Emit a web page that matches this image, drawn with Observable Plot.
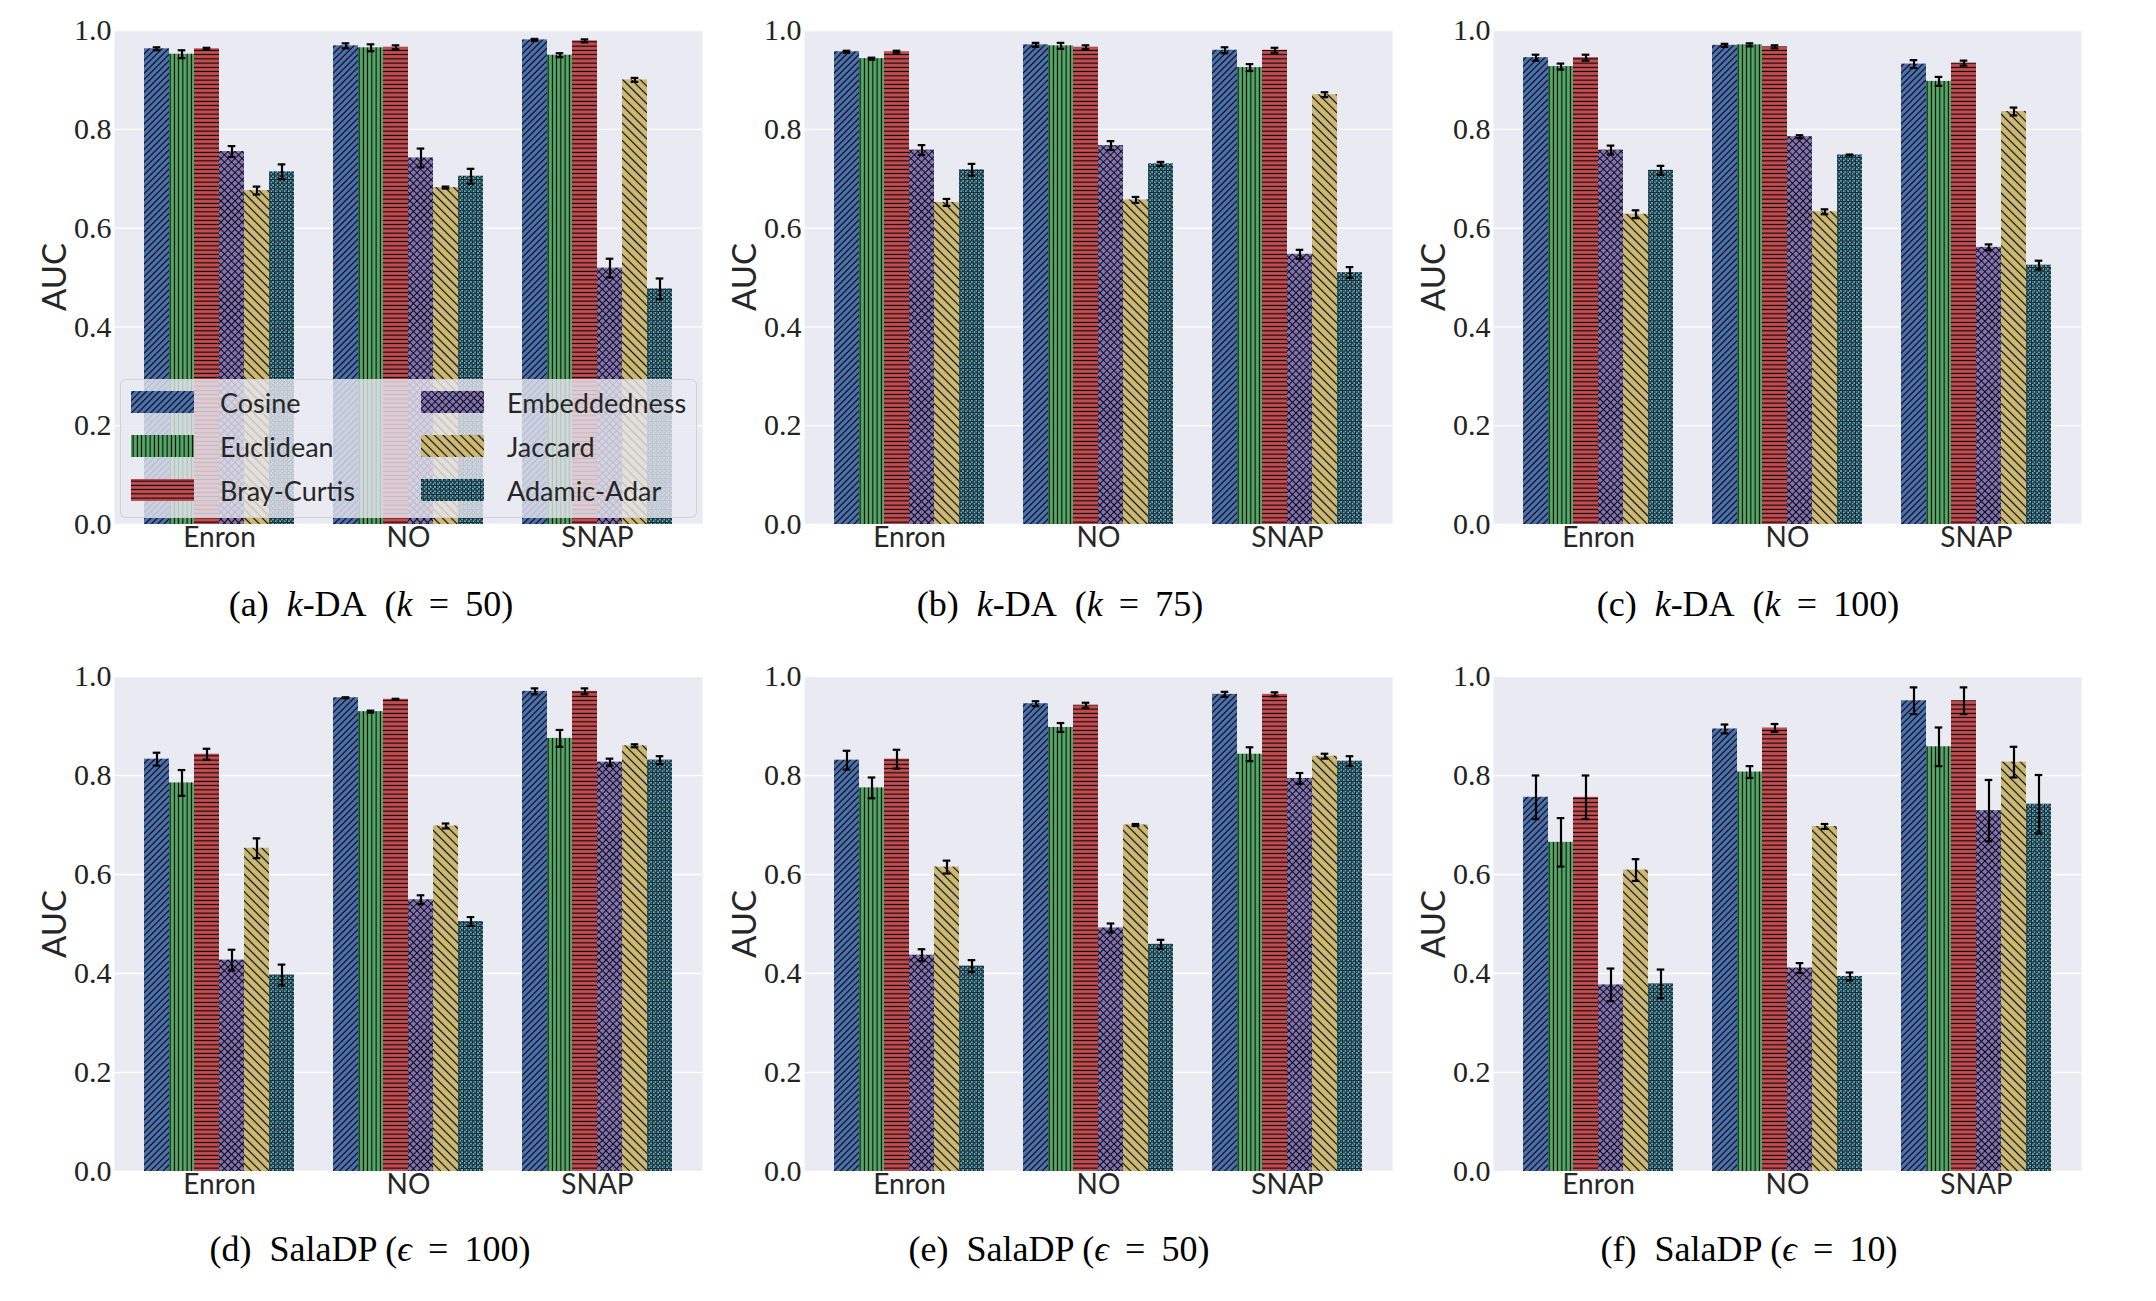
<!DOCTYPE html>
<html><head><meta charset="utf-8">
<script src="https://cdn.jsdelivr.net/npm/d3@7"></script>
<script src="https://cdn.jsdelivr.net/npm/@observablehq/plot@0.6"></script>
<style>
html,body{margin:0;padding:0;background:#fff;}
#root{position:relative;width:2156px;height:1301px;overflow:hidden;background:#fff;}
.cap{position:absolute;transform:translate(-50%,-50%);font-family:"Liberation Serif",serif;font-size:36px;color:#000;white-space:nowrap;}
.ylab{position:absolute;transform:translate(-50%,-50%) rotate(-90deg);font-family:Lato,sans-serif;font-size:33px;color:#262626;white-space:nowrap;}
.legend{position:absolute;background:rgba(234,234,242,0.8);border:1px solid rgba(204,204,204,0.8);border-radius:6px;box-sizing:border-box;}
.litem{position:absolute;display:flex;align-items:center;font-family:Lato,sans-serif;font-size:27px;color:#262626;white-space:nowrap;}
</style></head>
<body><div id="root"></div>
<script>
const groups = ["Enron", "NO", "SNAP"];
const methods = ["Cosine", "Euclidean", "Bray-Curtis", "Embeddedness", "Jaccard", "Adamic-Adar"];
const colors = ["#4C72B0", "#55A868", "#C44E52", "#8172B2", "#CCB974", "#64B5CD"];
const yTicks = [0, 0.2, 0.4, 0.6, 0.8, 1.0];

// (a) k-DA (k = 50): rows = Enron, NO, SNAP; columns = methods
const kda50Mean = [
  [0.963, 0.952, 0.963, 0.755, 0.676, 0.714],
  [0.969, 0.965, 0.966, 0.742, 0.682, 0.705],
  [0.981, 0.950, 0.979, 0.519, 0.900, 0.477]];
const kda50Err = [
  [0.003, 0.008, 0.002, 0.011, 0.008, 0.015],
  [0.005, 0.007, 0.004, 0.019, 0.002, 0.015],
  [0.002, 0.004, 0.003, 0.019, 0.004, 0.021]];
// (b) k-DA (k = 75)
const kda75Mean = [
  [0.957, 0.943, 0.957, 0.758, 0.652, 0.718],
  [0.971, 0.969, 0.966, 0.767, 0.657, 0.730],
  [0.960, 0.925, 0.960, 0.547, 0.870, 0.510]];
const kda75Err = [
  [0.002, 0.002, 0.002, 0.010, 0.007, 0.012],
  [0.004, 0.006, 0.004, 0.009, 0.006, 0.004],
  [0.006, 0.007, 0.005, 0.009, 0.005, 0.011]];
// (c) k-DA (k = 100)
const kda100Mean = [
  [0.945, 0.927, 0.945, 0.758, 0.628, 0.717],
  [0.970, 0.971, 0.967, 0.785, 0.633, 0.748],
  [0.932, 0.897, 0.934, 0.561, 0.836, 0.525]];
const kda100Err = [
  [0.006, 0.006, 0.006, 0.009, 0.008, 0.009],
  [0.003, 0.003, 0.003, 0.003, 0.005, 0.001],
  [0.008, 0.009, 0.005, 0.006, 0.008, 0.009]];
// (d) SalaDP (eps = 100)
const sala100Mean = [
  [0.833, 0.785, 0.843, 0.427, 0.653, 0.397],
  [0.957, 0.929, 0.954, 0.549, 0.698, 0.505],
  [0.970, 0.875, 0.970, 0.827, 0.860, 0.831]];
const sala100Err = [
  [0.013, 0.026, 0.011, 0.021, 0.020, 0.021],
  [0.001, 0.002, 0.001, 0.009, 0.005, 0.009],
  [0.006, 0.017, 0.006, 0.007, 0.003, 0.008]];
// (e) SalaDP (eps = 50)
const sala50Mean = [
  [0.831, 0.775, 0.833, 0.437, 0.615, 0.415],
  [0.945, 0.897, 0.942, 0.492, 0.700, 0.459],
  [0.964, 0.843, 0.964, 0.794, 0.839, 0.829]];
const sala50Err = [
  [0.019, 0.021, 0.019, 0.012, 0.013, 0.012],
  [0.005, 0.009, 0.005, 0.009, 0.002, 0.009],
  [0.005, 0.014, 0.004, 0.011, 0.005, 0.010]];
// (f) SalaDP (eps = 10)
const sala10Mean = [
  [0.756, 0.665, 0.756, 0.377, 0.609, 0.379],
  [0.894, 0.807, 0.896, 0.411, 0.697, 0.394],
  [0.951, 0.858, 0.951, 0.729, 0.827, 0.742]];
const sala10Err = [
  [0.044, 0.049, 0.044, 0.033, 0.022, 0.029],
  [0.009, 0.012, 0.008, 0.010, 0.005, 0.008],
  [0.027, 0.039, 0.027, 0.062, 0.031, 0.059]];

const captions = [
  "(a)&nbsp; <i>k</i>-DA&nbsp; (<i>k</i>&thinsp; = &thinsp;50)",
  "(b)&nbsp; <i>k</i>-DA&nbsp; (<i>k</i>&thinsp; = &thinsp;75)",
  "(c)&nbsp; <i>k</i>-DA&nbsp; (<i>k</i>&thinsp; = &thinsp;100)",
  "(d)&nbsp; SalaDP (<i>ϵ</i>&thinsp; = &thinsp;100)",
  "(e)&nbsp; SalaDP (<i>ϵ</i>&thinsp; = &thinsp;50)",
  "(f)&nbsp; SalaDP (<i>ϵ</i>&thinsp; = &thinsp;10)"
];

const root = document.getElementById("root");

// hatch patterns (matplotlib-like)
const patternIds = methods.map((m, i) => "hatch" + i);
const patternUrls = patternIds.map(id => `url(#${id})`);
const defsSvg = document.createElementNS("http://www.w3.org/2000/svg", "svg");
defsSvg.setAttribute("width", "0"); defsSvg.setAttribute("height", "0");
defsSvg.style.position = "absolute"; defsSvg.style.left = "0"; defsSvg.style.top = "0";
defsSvg.innerHTML = `<defs>
<pattern id="hatch0" patternUnits="userSpaceOnUse" width="4.5" height="4.5" patternTransform="rotate(45)">
  <rect width="4.5" height="4.5" fill="${colors[0]}"/><line x1="2.25" y1="-1" x2="2.25" y2="5.5" stroke="#000" stroke-width="1.1"/></pattern>
<pattern id="hatch1" patternUnits="userSpaceOnUse" width="4.25" height="4.25">
  <rect width="4.25" height="4.25" fill="${colors[1]}"/><line x1="2.1" y1="-1" x2="2.1" y2="5.5" stroke="#000" stroke-width="1.1"/></pattern>
<pattern id="hatch2" patternUnits="userSpaceOnUse" width="4.25" height="4.25">
  <rect width="4.25" height="4.25" fill="${colors[2]}"/><line x1="-1" y1="2.1" x2="5.5" y2="2.1" stroke="#000" stroke-width="1.1"/></pattern>
<pattern id="hatch3" patternUnits="userSpaceOnUse" width="5" height="5" patternTransform="rotate(45)">
  <rect width="5" height="5" fill="${colors[3]}"/><line x1="2.5" y1="-1" x2="2.5" y2="6" stroke="#000" stroke-width="0.9"/><line x1="-1" y1="2.5" x2="6" y2="2.5" stroke="#000" stroke-width="0.9"/></pattern>
<pattern id="hatch4" patternUnits="userSpaceOnUse" width="6.2" height="6.2" patternTransform="rotate(-45)">
  <rect width="6.2" height="6.2" fill="${colors[4]}"/><line x1="3.1" y1="-1" x2="3.1" y2="7.2" stroke="#000" stroke-width="1.1"/></pattern>
<pattern id="hatch5" patternUnits="userSpaceOnUse" width="4.4" height="4.4">
  <rect width="4.4" height="4.4" fill="${colors[5]}"/>
  <circle cx="1.1" cy="1.1" r="1.05" fill="none" stroke="#000" stroke-width="0.95"/>
  <circle cx="3.3" cy="3.3" r="1.05" fill="none" stroke="#000" stroke-width="0.95"/></pattern>
</defs>`;
root.appendChild(defsSvg);

const panels = [
  {mean: kda50Mean, err: kda50Err, left: 114, top: 30, h: 494, capX: 371, capY: 604, legend: true},
  {mean: kda75Mean, err: kda75Err, left: 804, top: 30, h: 494, capX: 1060, capY: 604},
  {mean: kda100Mean, err: kda100Err, left: 1493, top: 30, h: 494, capX: 1748, capY: 604},
  {mean: sala100Mean, err: sala100Err, left: 114, top: 676, h: 495, capX: 370, capY: 1249},
  {mean: sala50Mean, err: sala50Err, left: 804, top: 676, h: 495, capX: 1059, capY: 1249},
  {mean: sala10Mean, err: sala10Err, left: 1493, top: 676, h: 495, capX: 1749, capY: 1249}
];

const W = 588, ML = 60, MR = 12, MT = 20, MB = 50;

panels.forEach((p, pi) => {
  const rows = groups.flatMap((g, gi) => methods.map((m, mi) => ({
    group: g, method: m, value: p.mean[gi][mi], err: p.err[gi][mi]
  })));
  const common = {
    width: ML + W + MR, height: MT + p.h + MB,
    marginLeft: ML, marginRight: MR, marginTop: MT, marginBottom: MB
  };
  const bg = Plot.plot({
    ...common,
    style: {background: "transparent", overflow: "visible", fontFamily: "Liberation Serif, serif", fontSize: "30px", color: "#222"},
    y: {domain: [0, 1], ticks: yTicks, tickFormat: d3.format(".1f"), tickSize: 0, tickPadding: 3, label: null},
    marks: [
      Plot.frame({fill: "#EAEAF2", stroke: "none"}),
      Plot.gridY(yTicks, {stroke: "white", strokeOpacity: 1, strokeWidth: 1.3})
    ]
  });
  bg.querySelectorAll("text").forEach(t => {
    t.setAttribute("font-family", "Liberation Serif, serif");
    t.style.fontFamily = "'Liberation Serif', serif";
    t.style.fontSize = "30px";
  });
  const bars = Plot.plot({
    ...common,
    style: {background: "transparent", overflow: "visible", fontFamily: "Lato, sans-serif", fontSize: "28px", color: "#262626"},
    fx: {domain: groups, paddingInner: 0.195, paddingOuter: 0.145, axis: "bottom", tickSize: 0, tickPadding: 3, label: null},
    x: {domain: methods, padding: 0, axis: null},
    y: {domain: [0, 1], axis: null},
    color: {type: "ordinal", domain: methods, range: patternUrls},
    marks: [
      Plot.barY(rows, {fx: "group", x: "method", y: "value", fill: "method"}),
      Plot.ruleX(rows, {fx: "group", x: "method", y1: d => d.value - d.err, y2: d => d.value + d.err, stroke: "black", strokeWidth: 2.2}),
      Plot.tickY(rows, {fx: "group", x: "method", y: d => d.value - d.err, stroke: "black", strokeWidth: 2.2, inset: 8.7}),
      Plot.tickY(rows, {fx: "group", x: "method", y: d => d.value + d.err, stroke: "black", strokeWidth: 2.2, inset: 8.7})
    ]
  });
  for (const s of [bg, bars]) {
    s.style.position = "absolute";
    s.style.left = (p.left - ML) + "px";
    s.style.top = (p.top - MT) + "px";
    s.style.maxWidth = "none";
    root.appendChild(s);
  }
  const yl = document.createElement("div");
  yl.className = "ylab"; yl.textContent = "AUC";
  yl.style.left = (p.left - 61) + "px"; yl.style.top = (p.top + p.h / 2) + "px";
  root.appendChild(yl);
  const cap = document.createElement("div");
  cap.className = "cap"; cap.innerHTML = captions[pi];
  cap.style.left = p.capX + "px"; cap.style.top = p.capY + "px";
  root.appendChild(cap);

  if (p.legend) {
    const lg = document.createElement("div");
    lg.className = "legend";
    lg.style.left = "120px"; lg.style.top = "379px"; lg.style.width = "577px"; lg.style.height = "139px";
    root.appendChild(lg);
    const colX = [[131, 220], [421, 507]];
    const rowY = [402, 445.5, 489.5];
    methods.forEach((m, i) => {
      const c = Math.floor(i / 3), r = i % 3;
      const sw = document.createElementNS("http://www.w3.org/2000/svg", "svg");
      sw.setAttribute("width", "63"); sw.setAttribute("height", "22");
      sw.style.position = "absolute";
      sw.style.left = colX[c][0] + "px"; sw.style.top = (rowY[r] - 11) + "px";
      sw.innerHTML = `<rect width="63" height="22" fill="${patternUrls[i]}"/>`;
      root.appendChild(sw);
      const t = document.createElement("div");
      t.className = "litem"; t.textContent = m;
      t.style.left = colX[c][1] + "px"; t.style.top = rowY[r] + "px";
      t.style.transform = "translateY(-50%)";
      root.appendChild(t);
    });
  }
});
</script></body></html>
